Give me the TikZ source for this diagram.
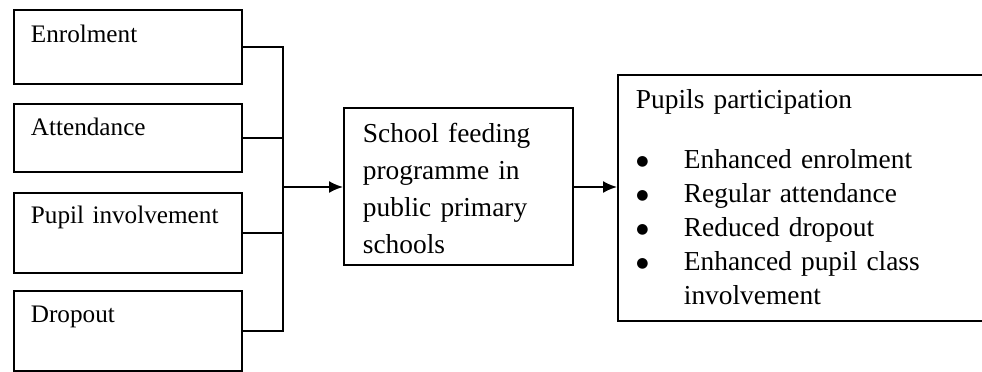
\documentclass[tikz,border=0pt]{standalone}
\usepackage{fontspec}
\setmainfont{Liberation Serif}
\newfontfamily\dotfont{DejaVu Sans}
\usetikzlibrary{arrows.meta}

\begin{document}
\begin{tikzpicture}[x=0.5pt, y=-0.5pt, >={Latex[length=7pt,width=6pt]},
  line width=0.9pt, font=\fontsize{12.6}{18.5}\selectfont,
  inbox/.style={draw, anchor=north west, align=left, inner xsep=8.5pt,
    inner ysep=0pt, text width=97pt, text height=16.5pt},
  bigtext/.style={font=\fontsize{13.7}{18.5}\selectfont},
  link/.style={line width=0.9pt}]

% Layout constants (pixel units of the page)
\def\lx{13}    % left column x
\def\bx{283}   % x of the joining bar
\def\bulw{24pt} % bullet indent
\def\bul{\makebox[\bulw][l]{\hspace{0.2pt}\raisebox{1.8pt}{\dotfont\fontsize{7}{7}\selectfont ●}}}

\useasboundingbox (0,0) rectangle (982,371);

%% ---- inputs --------------------------------------------
\node[inbox, text depth=20.5pt] (enr) at (\lx,9)   {Enrolment};
\node[inbox, text height=16pt, text depth=18pt] (att) at (\lx,103) {Attendance};
\node[inbox, text height=15.5pt, text depth=24.5pt] (inv) at (\lx,192) {Pupil involvement};
\node[inbox, text height=16pt, text depth=24pt] (drp) at (\lx,290) {Dropout};

%% ---- programme ------------------------------------------
\node[inbox, bigtext, inner xsep=9.5pt, text width=95.5pt, text height=17.5pt,
  text depth=61pt] (sfp) at (343,107)
  {School feeding\\ programme in\\ public primary\\ schools};

%% ---- outcome (runs off the right edge) -------------------
\node[inbox, inner xsep=9pt, text width=171pt, text height=17pt,
  text depth=106pt, font=\fontsize{13.7}{17}\selectfont] (out) at (617,74)
  {Pupils participation\\[13pt]
   \bul Enhanced enrolment\\
   \bul Regular attendance\\
   \bul Reduced dropout\\
   \bul Enhanced pupil class\\
   \hspace*{\bulw}involvement};

%% ---- connectors -----------------------------------------
\coordinate (bus) at (\bx,187);
\foreach \b in {enr,att,inv,drp} {
  \draw[link] (\b.east) -| (bus);
}
\draw[link,->] (bus) -- (bus -| sfp.west);
\draw[link,->] (sfp.east |- bus) -- (bus -| out.west);

\end{tikzpicture}
\end{document}
